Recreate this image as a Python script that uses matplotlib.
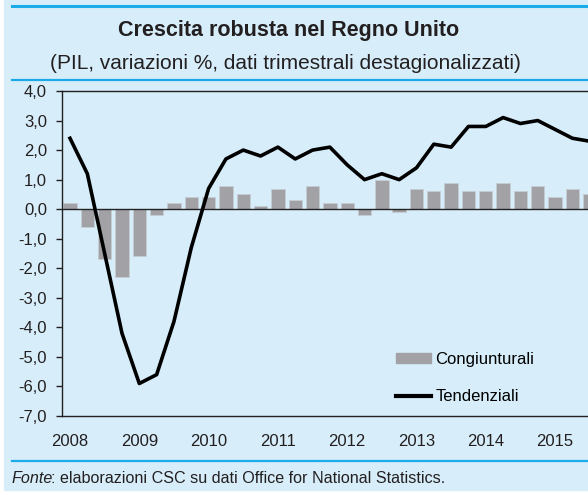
import numpy as np
import matplotlib
matplotlib.use('Agg')
from matplotlib import pyplot as plt
from matplotlib.patches import Rectangle, Patch
from matplotlib.lines import Line2D
from matplotlib.ticker import FuncFormatter

# quarterly data, 2008Q1 .. 2015Q3
quarters = [f'{y}Q{q}' for y in range(2008, 2016) for q in range(1, 5)][:31]
congiunturali = [0.2, -0.6, -1.7, -2.3, -1.6, -0.2, 0.2, 0.4,
                 0.4, 0.8, 0.5, 0.1, 0.7, 0.3, 0.8, 0.2,
                 0.2, -0.2, 1.0, -0.1, 0.7, 0.6, 0.9, 0.6,
                 0.6, 0.9, 0.6, 0.8, 0.4, 0.7, 0.5]
tendenziali = [2.4, 1.2, -1.5, -4.2, -5.9, -5.6, -3.8, -1.3,
               0.7, 1.7, 2.0, 1.8, 2.1, 1.7, 2.0, 2.1,
               1.5, 1.0, 1.2, 1.0, 1.4, 2.2, 2.1, 2.8,
               2.8, 3.1, 2.9, 3.0, 2.7, 2.4, 2.3]
years = ['2008', '2009', '2010', '2011', '2012', '2013', '2014', '2015']

BG = '#D7EEFA'
RULE = '#1AACE8'
BAR = '#A2A1A6'
INK = '#231F20'
W, H = 588, 495

plt.rcParams['font.family'] = ['Liberation Sans', 'DejaVu Sans']

fig = plt.figure(figsize=(W / 100, H / 100), dpi=100)
fig.patches.append(Rectangle((4 / W, 5 / H), 1, 1, transform=fig.transFigure,
                             color=BG, zorder=-10))

# blue rules
for y, lw in [(5.5, 2.2), (80, 1.6), (461, 1.6)]:
    fig.add_artist(Line2D([12 / W, 1], [1 - y / H] * 2, color=RULE, lw=lw))

fig.text(0.49, 1 - 36 / H, 'Crescita robusta nel Regno Unito', ha='center',
         va='baseline', fontsize=15.5, fontweight='bold', color=INK)
fig.text(0.485, 1 - 69 / H, '(PIL, variazioni %, dati trimestrali destagionalizzati)',
         ha='center', va='baseline', fontsize=15, color=INK)

ax = fig.add_axes([61.7 / W, 1 - 416 / H, 1 - 61.7 / W, (416 - 91) / H])
ax.set_facecolor('none')

x = np.arange(len(quarters))
ax.bar(x, congiunturali, width=0.77, color=BAR, edgecolor='#C4CDD4', linewidth=0.7,
       label='Congiunturali', zorder=2)
ax.axhline(0, color='#222222', lw=1.0, zorder=3)
ax.plot(x, tendenziali, color='black', lw=2.6, label='Tendenziali', zorder=4)

ax.set_xlim(-0.48, 29.9)
ax.set_ylim(-7, 4)
ax.set_yticks(range(-7, 5))
ax.yaxis.set_major_formatter(FuncFormatter(lambda v, _: f'{v:.1f}'.replace('.', ',')))
ax.set_xticks(x[::4])
ax.set_xticklabels(years)
ax.tick_params(axis='y', length=4, width=1, pad=6.5, labelsize=12, colors=INK)
ax.tick_params(axis='x', length=0, pad=13, labelsize=12, colors=INK)
for s in ['left', 'top', 'bottom']:
    ax.spines[s].set_color(INK)
    ax.spines[s].set_linewidth(1.0)
ax.spines['right'].set_visible(False)

handles = [Patch(facecolor=BAR, edgecolor=BAR),
           Line2D([], [], color='black', lw=3)]
ax.legend(handles, ['Congiunturali', 'Tendenziali'], loc='upper left',
          bbox_to_anchor=(396 / W, 1 - 352 / H), bbox_transform=fig.transFigure,
          frameon=False, fontsize=12, handlelength=2.1, handleheight=0.55,
          handletextpad=0.25, labelspacing=1.33, borderpad=0, borderaxespad=0)

# source line: italic "Fonte" followed by regular text
t1 = fig.text(12 / W, 1 - 486 / H, 'Fonte', fontsize=11.6, style='italic',
              va='bottom', color=INK)
fig.add_artist(plt.Annotation(': elaborazioni CSC su dati Office for National Statistics.',
                              xy=(1, 0), xycoords=t1, xytext=(-1.5, 0),
                              textcoords='offset points', va='bottom',
                              fontsize=11.6, color=INK))

fig.savefig('out.png', dpi=100)
